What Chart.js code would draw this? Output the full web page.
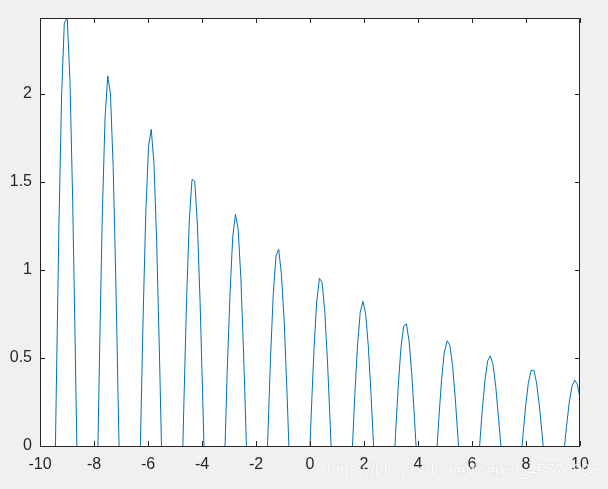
<!DOCTYPE html>
<html>
<head>
<meta charset="utf-8">
<script src="https://cdn.jsdelivr.net/npm/chart.js@4.4.1/dist/chart.umd.min.js"></script>
<style>
html,body{margin:0;padding:0;background:#f0f0f0;}
#wrap{width:608px;height:489px;}
</style>
</head>
<body>
<div id="wrap"><canvas id="c" width="608" height="489"></canvas></div>
<script>
// sample positions (x) read along the axis
const xs = [
-10.00,-9.90,-9.80,-9.70,-9.60,-9.50,-9.40,-9.30,-9.20,-9.10,
-8.99,-8.89,-8.79,-8.69,-8.59,-8.49,-8.39,-8.29,-8.19,-8.09,
-7.99,-7.89,-7.79,-7.69,-7.59,-7.49,-7.39,-7.29,-7.19,-7.09,
-6.98,-6.88,-6.78,-6.68,-6.58,-6.48,-6.38,-6.28,-6.18,-6.08,
-5.98,-5.88,-5.78,-5.68,-5.58,-5.48,-5.38,-5.28,-5.18,-5.08,
-4.97,-4.87,-4.77,-4.67,-4.57,-4.47,-4.37,-4.27,-4.17,-4.07,
-3.97,-3.87,-3.77,-3.67,-3.57,-3.47,-3.37,-3.27,-3.17,-3.07,
-2.96,-2.86,-2.76,-2.66,-2.56,-2.46,-2.36,-2.26,-2.16,-2.06,
-1.96,-1.86,-1.76,-1.66,-1.56,-1.46,-1.36,-1.26,-1.16,-1.06,
-0.95,-0.85,-0.75,-0.65,-0.55,-0.45,-0.35,-0.25,-0.15,-0.05,
0.05,0.15,0.25,0.35,0.45,0.55,0.65,0.75,0.85,0.95,
1.06,1.16,1.26,1.36,1.46,1.56,1.66,1.76,1.86,1.96,
2.06,2.16,2.26,2.36,2.46,2.56,2.66,2.76,2.86,2.96,
3.07,3.17,3.27,3.37,3.47,3.57,3.67,3.77,3.87,3.97,
4.07,4.17,4.27,4.37,4.47,4.57,4.67,4.77,4.87,4.97,
5.08,5.18,5.28,5.38,5.48,5.58,5.68,5.78,5.88,5.98,
6.08,6.18,6.28,6.38,6.48,6.58,6.68,6.78,6.88,6.98,
7.09,7.19,7.29,7.39,7.49,7.59,7.69,7.79,7.89,7.99,
8.09,8.19,8.29,8.39,8.49,8.59,8.69,8.79,8.89,8.99,
9.10,9.20,9.30,9.40,9.50,9.60,9.70,9.80,9.90,10.00
];
// curve values (parts below 0 fall outside the visible axes)
const ys = [
-2.025,-2.547,-2.657,-2.343,-1.667,-0.741,0.284,1.244,1.989,2.404,
2.432,2.074,1.397,0.513,-0.436,-1.296,-1.934,-2.255,-2.212,-1.821,
-1.149,-0.311,0.560,1.327,1.868,2.103,2.001,1.587,0.928,0.137,
-0.660,-1.338,-1.789,-1.950,-1.799,-1.369,-0.729,0.013,0.738,1.332,
1.703,1.799,1.608,1.167,0.551,-0.141,-0.796,-1.312,-1.611,-1.649,
-1.427,-0.983,-0.392,0.248,0.837,1.282,1.515,1.505,1.256,0.814,
0.254,-0.337,-0.862,-1.241,-1.416,-1.364,-1.098,-0.664,-0.133,0.408,
0.874,1.192,1.316,1.230,0.951,0.527,0.029,-0.464,-0.874,-1.138,
-1.216,-1.102,-0.815,-0.405,0.061,0.507,0.865,1.079,1.118,0.980,
0.689,0.296,-0.136,-0.538,-0.848,-1.017,-1.022,-0.866,-0.575,-0.201,
0.199,0.559,0.824,0.953,0.929,0.759,0.472,0.117,-0.250,-0.570,
-0.793,-0.888,-0.839,-0.659,-0.380,-0.045,0.291,0.573,0.759,0.822,
0.754,0.568,0.296,-0.018,-0.322,-0.569,-0.722,-0.757,-0.673,-0.483,
-0.221,0.071,0.345,0.560,0.682,0.694,0.596,0.406,0.156,-0.115,
-0.361,-0.546,-0.640,-0.632,-0.524,-0.335,-0.098,0.151,0.371,0.528,
0.598,0.572,0.457,0.272,0.047,-0.180,-0.375,-0.506,-0.555,-0.515,
-0.395,-0.215,-0.004,0.203,0.374,0.483,0.512,0.461,0.338,0.164,
-0.033,-0.221,-0.369,-0.457,-0.471,-0.410,-0.285,-0.118,0.064,0.233,
0.361,0.430,0.430,0.361,0.237,0.078,-0.090,-0.241,-0.350,-0.402,
-0.390,-0.316,-0.194,-0.043,0.111,0.245,0.337,0.374,0.352,0.274
];
const xTicks = [-10,-8,-6,-4,-2,0,2,4,6,8,10];
const yTicks = [0,0.5,1,1.5,2];
const xRange = [-10, 10];
const yRange = [0, 2.432];
const watermark = 'https://blog.csdn.net/weixin_45770896';

const AX = '#262626';
const FONT = {family: '"Liberation Sans", Arial, Helvetica, sans-serif', size: 16};

const frame = {
  id: 'frame',
  beforeDraw(chart) {
    const {ctx, chartArea: a} = chart;
    ctx.save();
    ctx.fillStyle = '#f0f0f0';
    ctx.fillRect(0, 0, chart.width, chart.height);
    ctx.fillStyle = '#ffffff';
    ctx.fillRect(a.left, a.top, a.right - a.left, a.bottom - a.top);
    ctx.restore();
  },
  afterDraw(chart) {
    const {ctx, chartArea: a, scales} = chart;
    const tl = 5;
    ctx.save();
    ctx.strokeStyle = AX;
    ctx.lineWidth = 1;
    ctx.beginPath();
    ctx.rect(a.left + 0.5, a.top + 0.5, a.right - a.left - 1, a.bottom - a.top);
    xTicks.forEach(v => {
      const px = Math.round(scales.x.getPixelForValue(v)) + 0.5;
      ctx.moveTo(px, a.bottom); ctx.lineTo(px, a.bottom - tl);
      ctx.moveTo(px, a.top); ctx.lineTo(px, a.top + tl);
    });
    yTicks.forEach(v => {
      const py = Math.round(scales.y.getPixelForValue(v)) + 0.5;
      ctx.moveTo(a.left, py); ctx.lineTo(a.left + tl, py);
      ctx.moveTo(a.right, py); ctx.lineTo(a.right - tl, py);
    });
    ctx.stroke();
    // watermark text
    ctx.font = '16px "Liberation Sans", Arial, sans-serif';
    ctx.textBaseline = 'alphabetic';
    ctx.textAlign = 'left';
    ctx.fillStyle = 'rgba(255,255,255,0.8)';
    ctx.strokeStyle = 'rgba(200,200,200,0.35)';
    ctx.lineWidth = 1;
    ctx.strokeText(watermark, 327, 476);
    ctx.fillText(watermark, 327, 476);
    ctx.restore();
  }
};

new Chart(document.getElementById('c'), {
  type: 'line',
  data: {
    datasets: [{
      data: xs.map((x, i) => ({x: x, y: ys[i]})),
      borderColor: '#0072BD',
      borderWidth: 1,
      pointRadius: 0,
      tension: 0,
      fill: false
    }]
  },
  options: {
    responsive: false,
    animation: false,
    layout: {padding: {left: 0, top: 18, right: 28, bottom: 0}},
    plugins: {legend: {display: false}, tooltip: {enabled: false}},
    scales: {
      x: {
        type: 'linear',
        min: xRange[0], max: xRange[1],
        grid: {display: false, drawTicks: false},
        border: {display: false},
        afterBuildTicks: s => { s.ticks = xTicks.map(v => ({value: v})); },
        afterFit: s => { s.height = 43; },
        ticks: {color: AX, font: FONT, padding: 9, maxRotation: 0, autoSkip: false,
                callback: v => String(v)}
      },
      y: {
        type: 'linear',
        min: yRange[0], max: yRange[1],
        grid: {display: false, drawTicks: false},
        border: {display: false},
        afterBuildTicks: s => { s.ticks = yTicks.map(v => ({value: v})); },
        afterFit: s => { s.width = 40; },
        ticks: {color: AX, font: FONT, padding: 8, autoSkip: false,
                callback: v => String(v)}
      }
    }
  },
  plugins: [frame]
});
</script>
</body>
</html>
